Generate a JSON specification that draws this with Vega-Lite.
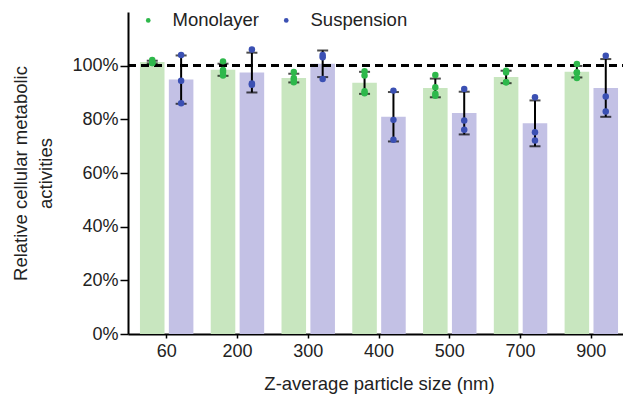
{
  "$schema": "https://vega.github.io/schema/vega-lite/v6.json",
  "autosize": "none",
  "width": 502,
  "height": 322,
  "padding": {"left": 128, "top": 12, "right": 0, "bottom": 62},
  "background": "white",
  "config": {
    "view": {"stroke": null},
    "font": "Liberation Sans",
    "axis": {"grid": false, "domainColor": "black", "domainWidth": 2, "tickColor": "black", "labelColor": "#222", "titleColor": "#222", "labelFontSize": 18, "titleFontSize": 18.5, "titleFontWeight": "normal", "labelFont": "Liberation Sans", "titleFont": "Liberation Sans"}
  },
  "resolve": {"scale": {"color": "independent"}},
  "data": {"values": [
    {"size": "60", "group": "Monolayer", "value": 101.2},
    {"size": "60", "group": "Monolayer", "value": 102.1},
    {"size": "60", "group": "Monolayer", "value": 101.0},
    {"size": "60", "group": "Monolayer", "value": 101.0},
    {"size": "200", "group": "Monolayer", "value": 101.6},
    {"size": "200", "group": "Monolayer", "value": 98.4},
    {"size": "200", "group": "Monolayer", "value": 97.6},
    {"size": "200", "group": "Monolayer", "value": 96.3},
    {"size": "300", "group": "Monolayer", "value": 93.8},
    {"size": "300", "group": "Monolayer", "value": 95.4},
    {"size": "300", "group": "Monolayer", "value": 94.7},
    {"size": "300", "group": "Monolayer", "value": 97.6},
    {"size": "400", "group": "Monolayer", "value": 96.3},
    {"size": "400", "group": "Monolayer", "value": 97.9},
    {"size": "400", "group": "Monolayer", "value": 89.7},
    {"size": "400", "group": "Monolayer", "value": 90.5},
    {"size": "500", "group": "Monolayer", "value": 96.5},
    {"size": "500", "group": "Monolayer", "value": 92.0},
    {"size": "500", "group": "Monolayer", "value": 88.8},
    {"size": "500", "group": "Monolayer", "value": 89.5},
    {"size": "700", "group": "Monolayer", "value": 97.5},
    {"size": "700", "group": "Monolayer", "value": 98.1},
    {"size": "700", "group": "Monolayer", "value": 93.8},
    {"size": "700", "group": "Monolayer", "value": 93.8},
    {"size": "900", "group": "Monolayer", "value": 100.6},
    {"size": "900", "group": "Monolayer", "value": 97.5},
    {"size": "900", "group": "Monolayer", "value": 97.5},
    {"size": "900", "group": "Monolayer", "value": 95.4},
    {"size": "60", "group": "Suspension", "value": 104.0},
    {"size": "60", "group": "Suspension", "value": 94.4},
    {"size": "60", "group": "Suspension", "value": 86.0},
    {"size": "200", "group": "Suspension", "value": 106.0},
    {"size": "200", "group": "Suspension", "value": 92.9},
    {"size": "200", "group": "Suspension", "value": 93.4},
    {"size": "300", "group": "Suspension", "value": 104.0},
    {"size": "300", "group": "Suspension", "value": 103.1},
    {"size": "300", "group": "Suspension", "value": 95.0},
    {"size": "400", "group": "Suspension", "value": 90.7},
    {"size": "400", "group": "Suspension", "value": 79.8},
    {"size": "400", "group": "Suspension", "value": 72.4},
    {"size": "500", "group": "Suspension", "value": 91.3},
    {"size": "500", "group": "Suspension", "value": 79.6},
    {"size": "500", "group": "Suspension", "value": 76.1},
    {"size": "700", "group": "Suspension", "value": 88.2},
    {"size": "700", "group": "Suspension", "value": 75.2},
    {"size": "700", "group": "Suspension", "value": 72.1},
    {"size": "900", "group": "Suspension", "value": 103.7},
    {"size": "900", "group": "Suspension", "value": 88.5},
    {"size": "900", "group": "Suspension", "value": 82.9}
  ]},
  "encoding": {
    "x": {"field": "size", "type": "nominal", "sort": ["60", "200", "300", "400", "500", "700", "900"],
      "scale": {"paddingInner": 0, "paddingOuter": 0.0466},
      "axis": {"title": "Z-average particle size (nm)", "labelAngle": 0, "tickSize": 4, "tickWidth": 1.5, "labelPadding": 4, "titlePadding": 14}},
    "xOffset": {"field": "group", "type": "nominal", "sort": ["Monolayer", "Suspension"], "scale": {"paddingInner": 0.15, "paddingOuter": 0.3}}
  },
  "layer": [
    {
      "mark": {"type": "bar"},
      "encoding": {
        "y": {"aggregate": "mean", "field": "value", "type": "quantitative",
          "scale": {"domain": [0, 120], "nice": false},
          "axis": {"title": ["Relative cellular metabolic", "activities"], "titleLineHeight": 25, "values": [0, 10, 20, 30, 40, 50, 60, 70, 80, 90, 100, 110],
            "labelExpr": "datum.value % 20 == 0 ? datum.value + '%' : ''",
            "tickSize": {"condition": {"test": "datum.value % 20 == 0", "value": 8}, "value": 5},
            "tickWidth": 1.5, "labelPadding": 2, "titlePadding": 16}},
        "color": {"field": "group", "type": "nominal", "scale": {"domain": ["Monolayer", "Suspension"], "range": ["#c8e6bf", "#c3c1e5"]}, "legend": null}
      }
    },
    {
      "mark": {"type": "rule", "color": "black", "strokeWidth": 2, "strokeDash": [8, 5]},
      "encoding": {"y": {"datum": 100}, "x": null, "xOffset": null}
    },
    {
      "transform": [
        {"aggregate": [{"op": "mean", "field": "value", "as": "m"}, {"op": "stdev", "field": "value", "as": "sd"}], "groupby": ["size", "group"]},
        {"calculate": "datum.m - datum.sd", "as": "lo"},
        {"calculate": "datum.m + datum.sd", "as": "hi"}
      ],
      "layer": [
        {"mark": {"type": "rule", "color": "black", "strokeWidth": 2},
          "encoding": {"y": {"field": "lo", "type": "quantitative"}, "y2": {"field": "hi"}}},
        {"mark": {"type": "tick", "color": "black", "thickness": 2, "size": 11},
          "encoding": {"y": {"field": "lo", "type": "quantitative"}}},
        {"mark": {"type": "tick", "color": "black", "thickness": 2, "size": 11},
          "encoding": {"y": {"field": "hi", "type": "quantitative"}}}
      ]
    },
    {
      "mark": {"type": "circle", "size": 42, "opacity": 1},
      "encoding": {
        "y": {"field": "value", "type": "quantitative"},
        "color": {"field": "group", "type": "nominal", "scale": {"domain": ["Monolayer", "Suspension"], "range": ["#2eb84b", "#3b50b3"]},
          "legend": {"title": null, "orient": "none", "legendX": 11, "legendY": -1, "padding": 0, "direction": "horizontal", "symbolSize": 22, "labelFontSize": 18.5, "labelColor": "#222", "labelFont": "Liberation Sans", "columnPadding": 18, "labelOffset": 15, "symbolType": "circle", "symbolStrokeWidth": 0}}
      }
    }
  ]
}
